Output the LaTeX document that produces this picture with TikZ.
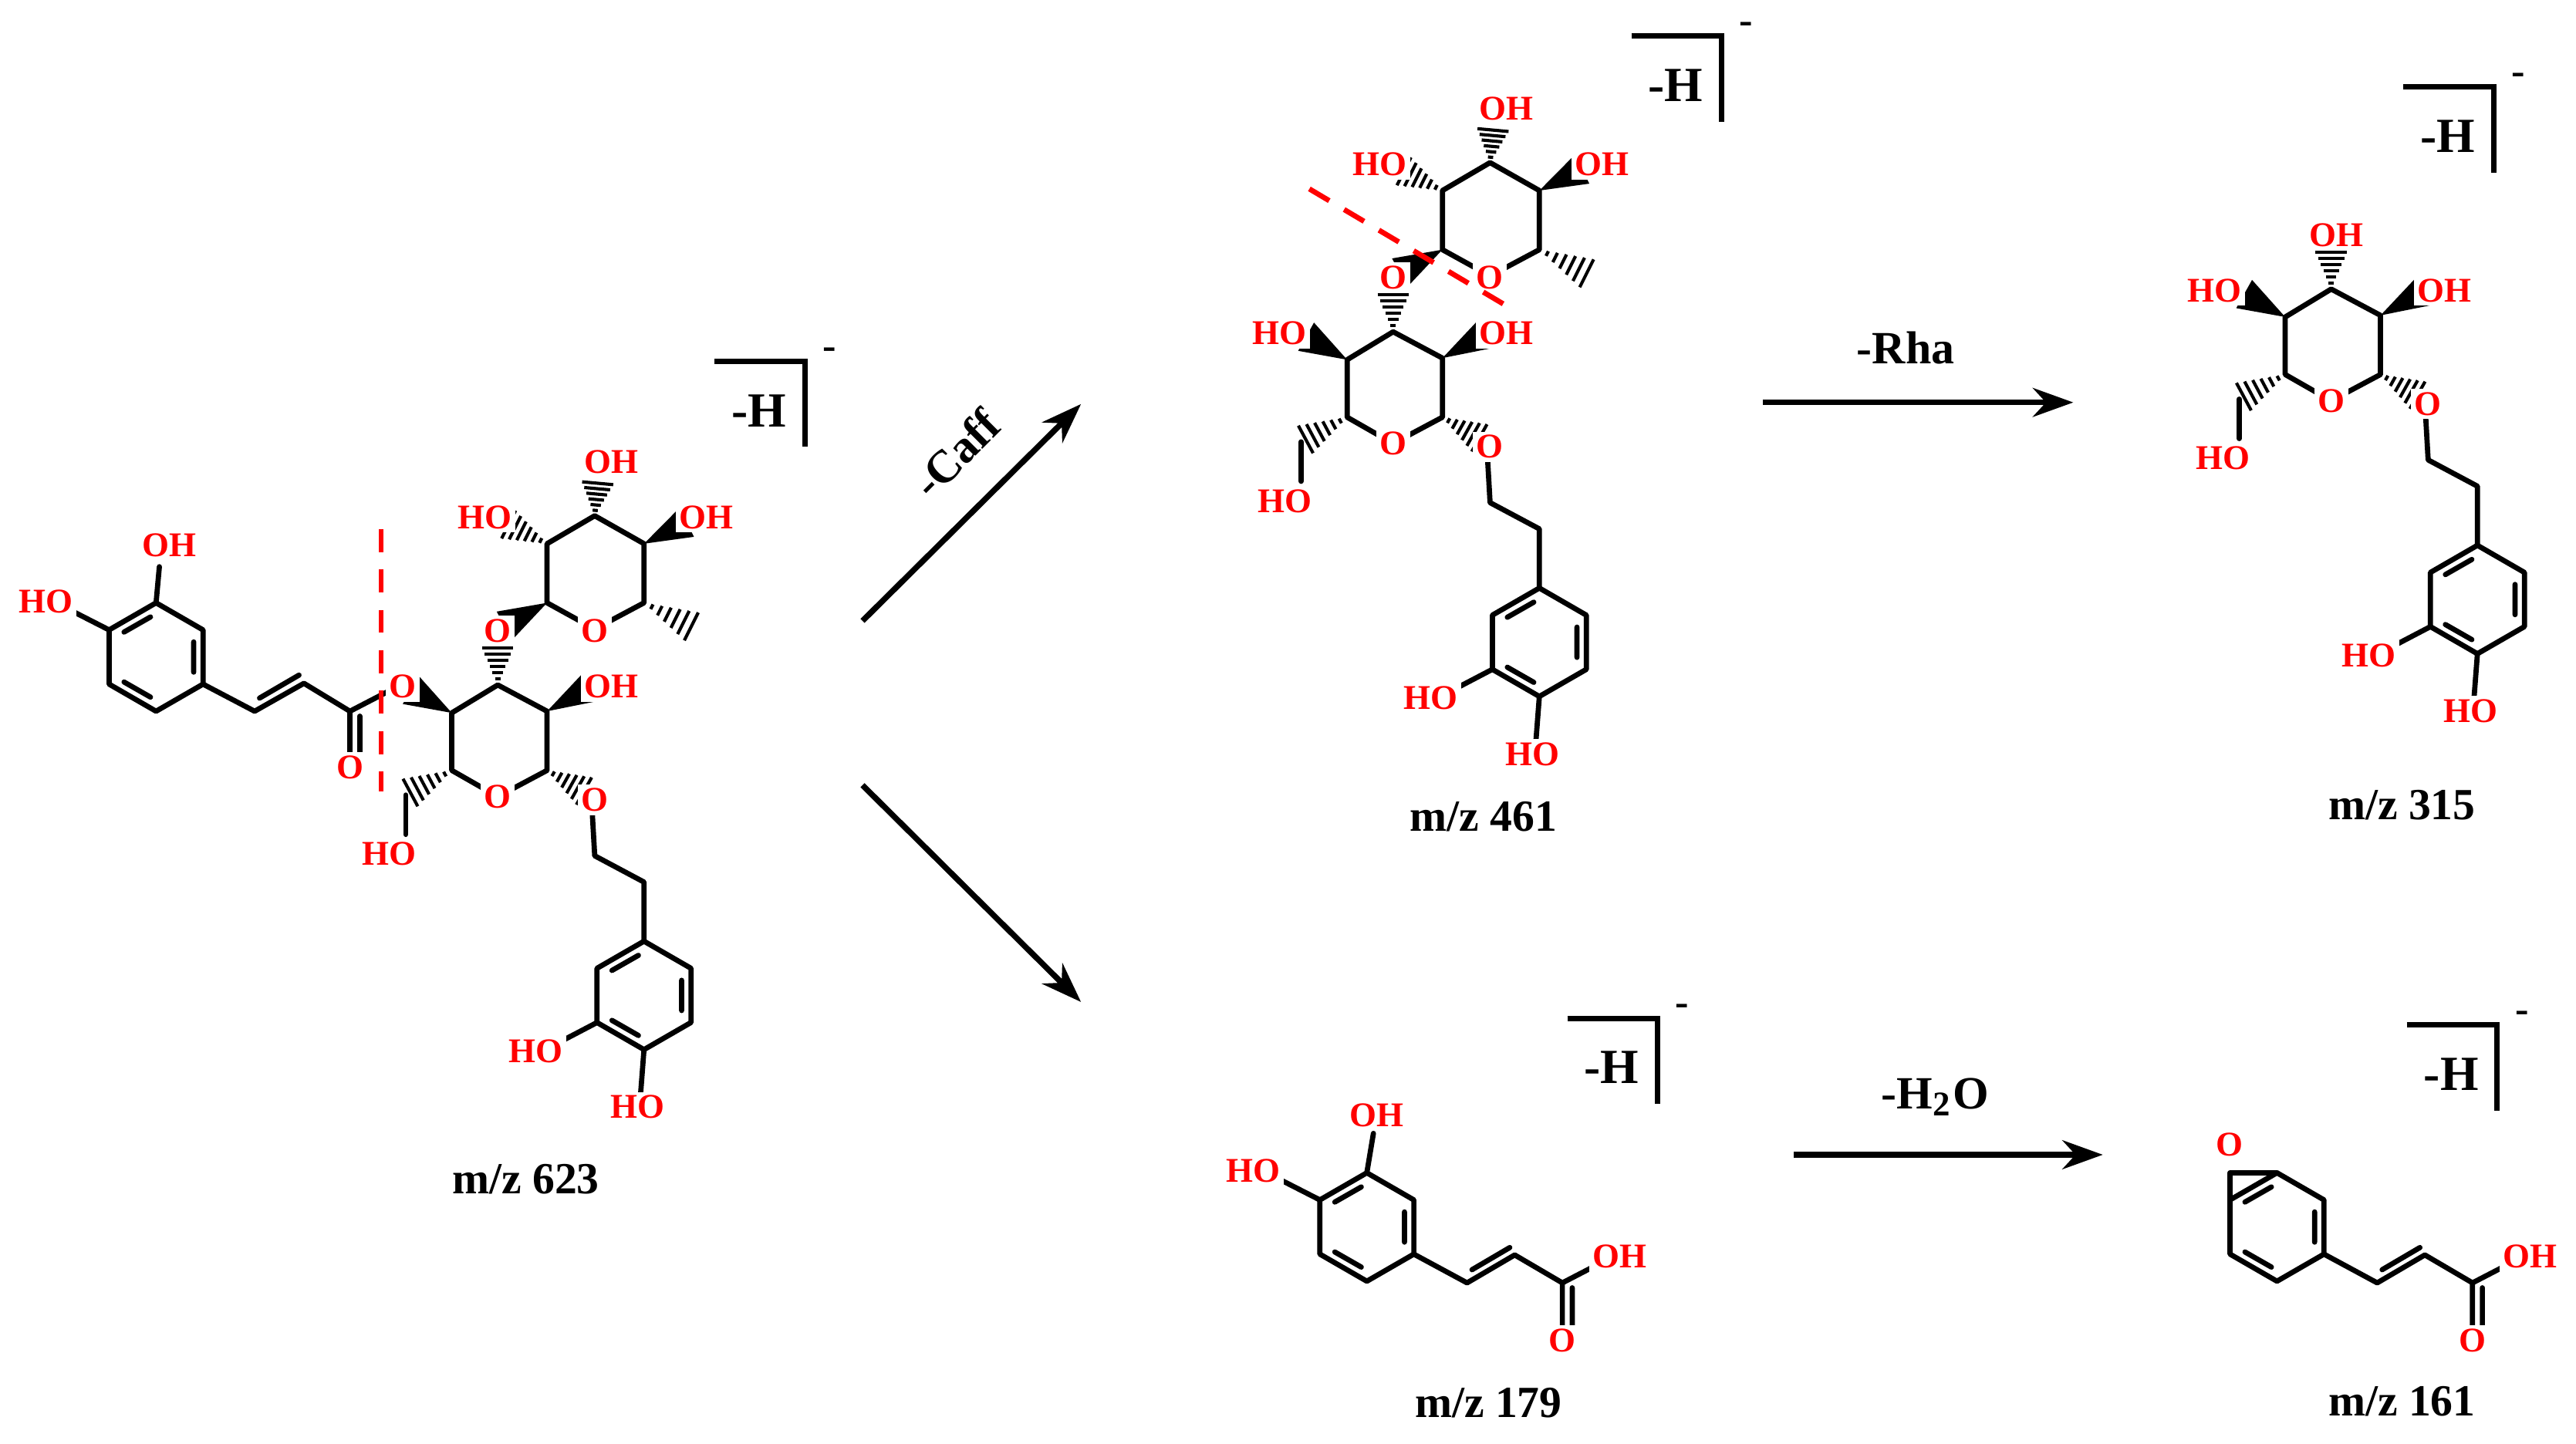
\documentclass[tikz,border=0pt]{standalone}
\usepackage{fontspec}
\setmainfont{Liberation Serif}
\usetikzlibrary{calc,arrows.meta}
\newcommand\labfont{\fontsize{6}{6}\selectfont\bfseries}
\newcommand\mzfont{\fontsize{7.7}{8}\selectfont\bfseries}
\newcommand\hb[2]{\foreach \t in {0.15,0.3,0.45,0.6,0.75,0.9}{\draw[line width=0.55pt] ($#1!\t!#2!{\t*3pt}!90:#2$) -- ($#1!\t!#2!{\t*3pt}!-90:#2$);}}
\newcommand\wb[2]{\fill #1 -- ($#2!2.8pt!90:#1$) -- ($#2!2.8pt!-90:#1$) -- cycle;}
\newcommand\benz[1]{\begin{scope}[shift={#1}]
\draw[bond] (0,-33)--(28.6,-16.5)--(28.6,16.5)--(0,33)--(-28.6,16.5)--(-28.6,-16.5)--cycle;
\draw[bond] (-19.5,-15.2)--(-3.4,-24.4) (22.9,-9.2)--(22.9,9.2) (-3.4,24.4)--(-19.5,15.2);
\end{scope}}
\newcommand\bracket[2]{\draw[line width=0.9pt] (#1,#2)--(#1+55,#2)--(#1+55,#2+52);
\node[font=\fontsize{8.5}{9}\selectfont\bfseries] at (#1+27,#2+30) {-H};
\node[font=\fontsize{7}{7}\selectfont\bfseries] at (#1+70,#2-5) {-};}
\tikzset{bond/.style={line width=0.9pt, line cap=round, line join=round},
 lbl/.style={text=red, font=\labfont, fill=white, inner sep=0.6pt},
 rx/.style={-{Stealth[length=7pt,width=5pt]}, line width=1pt},
 cut/.style={red, line width=0.9pt, dash pattern=on 4pt off 3pt}}
\newcommand\glucose{%
\draw[bond] (275,434)--(303,417)--(333,433)--(333,469)--(303,485)--(275,469)--cycle;
\wb{(333,433)}{(360,418)}
\hb{(333,469)}{(358,483)}
\draw[bond] (360,486)--(362,521)--(392,537)--(392,573);
\benz{(392,606)}
\draw[bond] (363.4,622.5)--(330,640) (392,639)--(390,665);
\hb{(275,469)}{(247,484)}
\draw[bond] (247,484)--(247,508);
\wb{(275,434)}{(250,420)}
\node[lbl] at (303,485) {O};
\node[lbl] at (372,418) {OH};
\node[lbl] at (362,487) {O};
\node[lbl] at (326,640) {HO};
\node[lbl] at (388,674) {HO};
\node[lbl] at (237,520) {HO};}
\newcommand\rhamnose{%
\draw[bond] (333,367)--(362,383)--(392,367)--(392,331)--(362,314)--(333,331)--cycle;
\hb{(392,367)}{(424,383)}
\hb{(362,314)}{(364,292)}
\hb{(333,331)}{(307,318)}
\wb{(392,331)}{(418,318)}
\hb{(303,417)}{(303,392)}
\wb{(333,367)}{(307,381)}
\node[lbl] at (362,384) {O};
\node[lbl] at (372,281) {OH};
\node[lbl] at (295,315) {HO};
\node[lbl] at (430,315) {OH};
\node[lbl] at (303,384) {O};}
\begin{document}
\begin{tikzpicture}[x=0.01cm,y=-0.01cm]
\useasboundingbox (0,0) rectangle (1568,879);
% m/z 623
\benz{(95,400)}
\draw[bond] (66.4,383.5)--(40,370) (95,367)--(97,345);
\draw[bond] (123.6,416.5)--(155,433)--(185,416)--(213,433)--(213,458);
\draw[bond] (158,425)--(182,411);
\draw[bond] (219,436)--(219,458);
\draw[bond] (213,433)--(240,419);
\node[lbl] at (28,366) {HO};
\node[lbl] at (103,332) {OH};
\node[lbl] at (213,467) {O};
\glucose
\node[lbl] at (245,418) {O};
\rhamnose
\draw[cut] (232,322)--(232,482);
\bracket{435}{220}
\node[font=\mzfont, text=black] (m623) at (320,718) {m/z 623};
% m/z 461
\begin{scope}[shift={(545,-215)}]
\glucose
\node[lbl] at (234,418) {HO};
\rhamnose
\end{scope}
\draw[cut] (797,115)--(915,185);
\bracket{993}{22}
\node[font=\mzfont, text=black] (m461) at (903,497) {m/z 461};
% m/z 315
\begin{scope}[shift={(1116,-241)}]
\glucose
\node[lbl] at (232,418) {HO};
\hb{(303,417)}{(303,392)}
\node[lbl] at (306,384) {OH};
\end{scope}
\bracket{1463}{53}
\node[font=\mzfont, text=black] (m315) at (1462,490) {m/z 315};
% m/z 179
\benz{(832,747)}
\draw[bond] (832,714)--(836,690) (803.4,730.5)--(775,716);
\draw[bond] (860.6,763.5)--(893,781)--(922,764)--(951,781)--(951,808);
\draw[bond] (896,773)--(919,759.5) (957,784)--(957,808) (951,781)--(978,767);
\node[lbl] at (838,679) {OH};
\node[lbl] at (763,713) {HO};
\node[lbl] at (986,765) {OH};
\node[lbl] at (951,816) {O};
\bracket{954}{620}
\node[font=\mzfont, text=black] (m179) at (906,854) {m/z 179};
% m/z 161
\begin{scope}[shift={(554,0)}]
\benz{(832,747)}
\draw[bond] (803.4,714)--(832,714) (803.4,714)--(803.4,730.5);
\draw[bond] (860.6,763.5)--(893,781)--(922,764)--(951,781)--(951,808);
\draw[bond] (896,773)--(919,759.5) (957,784)--(957,808) (951,781)--(978,767);
\node[lbl] at (803,697) {O};
\node[lbl] at (986,765) {OH};
\node[lbl] at (951,816) {O};
\end{scope}
\bracket{1465}{624}
\node[font=\mzfont, text=black] (m161) at (1462,853) {m/z 161};
% arrows
\coordinate (a1s) at (525,378); \coordinate (a1e) at (658,246);
\coordinate (a2s) at (525,478); \coordinate (a2e) at (658,610);
\coordinate (a3s) at (1073,245); \coordinate (a3e) at (1262,245);
\coordinate (a4s) at (1092,703); \coordinate (a4e) at (1280,703);
\draw[rx] (a1s)--(a1e);
\draw[rx] (a2s)--(a2e);
\draw[rx] (a3s)--(a3e);
\draw[rx] (a4s)--(a4e);
\node[font=\fontsize{8}{8}\selectfont\bfseries, rotate=45] (lc) at (582,276) {-Caff};
\node[font=\fontsize{8}{8}\selectfont\bfseries] (lr) at (1160,212) {-Rha};
\node[font=\fontsize{8}{8}\selectfont\bfseries] (lw) at (1178,668) {-H$_{\mathbf 2}$O};
\end{tikzpicture}
\end{document}
